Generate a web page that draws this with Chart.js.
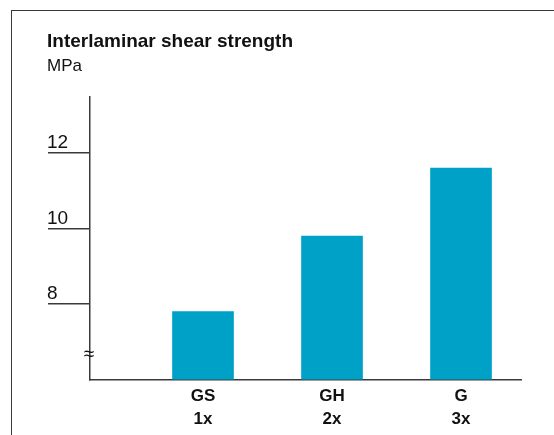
<!DOCTYPE html>
<html>
<head>
<meta charset="utf-8">
<script src="https://cdn.jsdelivr.net/npm/chart.js@4/dist/chart.umd.min.js"></script>
<style>
  html, body { margin: 0; padding: 0; background: #fff; }
  #wrap { position: relative; width: 554px; height: 435px; overflow: hidden; }
  #frame { position: absolute; left: 11px; top: 10px; width: 700px; height: 600px;
           border-top: 1.5px solid #3a3a3a; border-left: 1.5px solid #3a3a3a; }
  canvas { position: absolute; left: 0; top: 0; }
</style>
</head>
<body>
<div id="wrap">
  <div id="frame"></div>
  <canvas id="c" width="554" height="435"></canvas>
</div>
<script>
// ---- data ----
const categories = ["GS", "GH", "G"];
const multipliers = ["1x", "2x", "3x"];
const strengthMPa = [7.8, 9.8, 11.6];
const yTickValues = [8, 10, 12];
const yMin = 6;
const yMax = 13.5;
const axisBreakValue = 6.65;

const title = "Interlaminar shear strength";
const unit = "MPa";

const barColor = "#00a1c7";
const axisColor = "#3a3a3a";
const textColor = "#111111";
const fontFamily = "'Liberation Sans', Arial, sans-serif";

const points = categories.map((c, i) => ({ x: i + 1, y: strengthMPa[i] }));

const axisBreak = {
  id: "axisBreak",
  afterDraw(chart) {
    const ctx = chart.ctx;
    const y = chart.scales.y.getPixelForValue(axisBreakValue);
    const x = chart.scales.x.left;
    ctx.save();
    ctx.fillStyle = textColor;
    ctx.font = "19px " + fontFamily;
    ctx.textAlign = "center";
    ctx.textBaseline = "middle";
    ctx.fillText("\u2248", x - 1, y);
    ctx.restore();
  }
};

new Chart(document.getElementById("c"), {
  type: "bar",
  data: {
    datasets: [{
      data: points,
      backgroundColor: barColor,
      borderWidth: 0,
      barThickness: 61
    }]
  },
  options: {
    responsive: false,
    animation: false,
    events: [],
    layout: { padding: { top: 31, left: 47, right: 33, bottom: 0 } },
    plugins: {
      legend: { display: false },
      tooltip: { enabled: false },
      title: {
        display: true,
        text: title,
        align: "start",
        color: textColor,
        font: { family: fontFamily, size: 19, weight: "bold", lineHeight: 1.15 },
        padding: { top: 0, bottom: 3 }
      },
      subtitle: {
        display: true,
        text: unit,
        align: "start",
        color: textColor,
        font: { family: fontFamily, size: 17, weight: "normal", lineHeight: 1.2 },
        padding: { top: 0, bottom: 20 }
      }
    },
    scales: {
      x: {
        type: "linear",
        offset: false,
        min: 0.124,
        max: 3.465,
        afterBuildTicks: (scale) => { scale.ticks = categories.map((c, i) => ({ value: i + 1 })); },
        afterFit: (scale) => { scale.height = 55.5; },
        grid: { display: false, drawTicks: false, offset: false },
        border: { display: true, color: axisColor, width: 1.5 },
        ticks: {
          autoSkip: false,
          maxRotation: 0,
          padding: 5,
          color: textColor,
          font: { family: fontFamily, size: 17, weight: "bold", lineHeight: 1.38 },
          callback: (v) => [categories[v - 1], multipliers[v - 1]]
        }
      },
      y: {
        type: "linear",
        min: yMin,
        max: yMax,
        afterBuildTicks: (scale) => { scale.ticks = yTickValues.map(v => ({ value: v })); },
        afterFit: (scale) => { scale.width = 43; },
        grid: {
          display: true,
          drawOnChartArea: false,
          drawTicks: true,
          tickLength: 42,
          tickColor: axisColor,
          tickWidth: 1.5,
          lineWidth: 1.5,
          color: axisColor
        },
        border: { display: true, color: axisColor, width: 1.5 },
        ticks: {
          crossAlign: "far",
          labelOffset: -10,
          color: textColor,
          font: { family: fontFamily, size: 19 },
          callback: (v) => String(v)
        }
      }
    }
  },
  plugins: [axisBreak]
});
</script>
</body>
</html>
